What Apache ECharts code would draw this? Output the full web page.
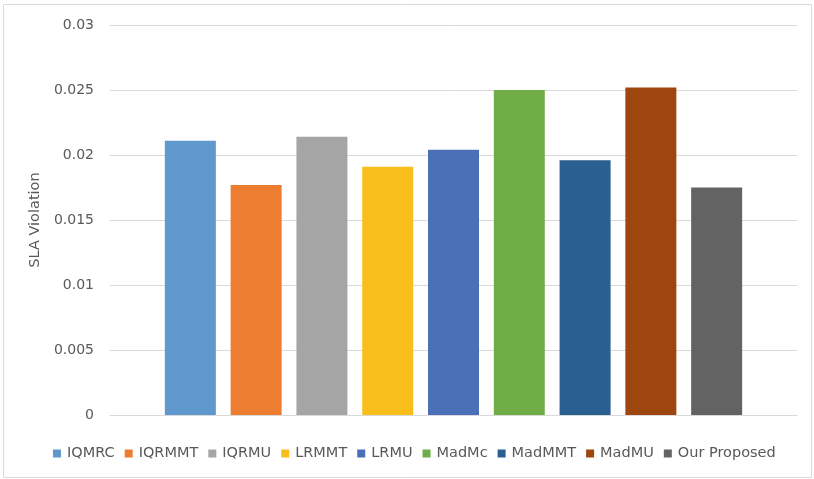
<!DOCTYPE html>
<html><head><meta charset="utf-8">
<script src="https://cdn.jsdelivr.net/npm/echarts@6/dist/echarts.min.js"></script>
<style>html,body{margin:0;padding:0;background:#fff}#c{width:814px;height:479px}</style>
</head><body><div id="c"></div>
<script>
const seriesNames = ['IQMRC','IQRMMT','IQRMU','LRMMT','LRMU','MadMc','MadMMT','MadMU','Our Proposed'];
const values = [0.0211, 0.0177, 0.0214, 0.0191, 0.0204, 0.0250, 0.0196, 0.0252, 0.0175];
const colors = ['#5F98CD','#ED7D31','#A5A5A5','#F9BD1C','#4A70B8','#70AD47','#2A5F91','#9D470F','#636363'];
const yTicks = [0, 0.005, 0.01, 0.015, 0.02, 0.025, 0.03];
const FONT = 'DejaVu Sans';
const chart = echarts.init(document.getElementById('c'), null, {renderer:'canvas'});
chart.setOption({
  animation:false,
  textStyle:{fontFamily:FONT},
  graphic:[{type:'rect',shape:{x:3.5,y:4.5,width:808,height:473},style:{fill:'none',stroke:'#d9d9d9',lineWidth:1},silent:true,z:-1}],
  grid:{left:110,right:17,top:25,bottom:64},
  legend:{
    data:seriesNames, top:441, left:48, itemWidth:8, itemHeight:8, itemGap:10,
    icon:'rect', textStyle:{color:'#595959',fontSize:14.5,fontFamily:FONT,padding:[0,0,0,1]}
  },
  xAxis:{type:'category',data:[''],axisTick:{show:false},axisLabel:{show:false},
    axisLine:{lineStyle:{color:'#d9d9d9',width:1}}},
  yAxis:{type:'value',min:0,max:0.03,interval:0.005,
    name:'SLA Violation',nameLocation:'middle',nameGap:58,nameRotate:90,
    nameTextStyle:{color:'#595959',fontSize:14.5,fontFamily:FONT},
    axisLabel:{color:'#595959',fontSize:14,fontFamily:FONT,margin:16,
      formatter:v=>{const t=yTicks.find(x=>Math.abs(x-v)<1e-9);return String(t!==undefined?t:v);}},
    splitLine:{lineStyle:{color:'#d9d9d9',width:1}},axisLine:{show:false},axisTick:{show:false}},
  series:seriesNames.map((n,i)=>({
    name:n,type:'bar',data:[values[i]],barWidth:51,barGap:'29%',
    itemStyle:{color:colors[i]}
  }))
});
</script></body></html>
